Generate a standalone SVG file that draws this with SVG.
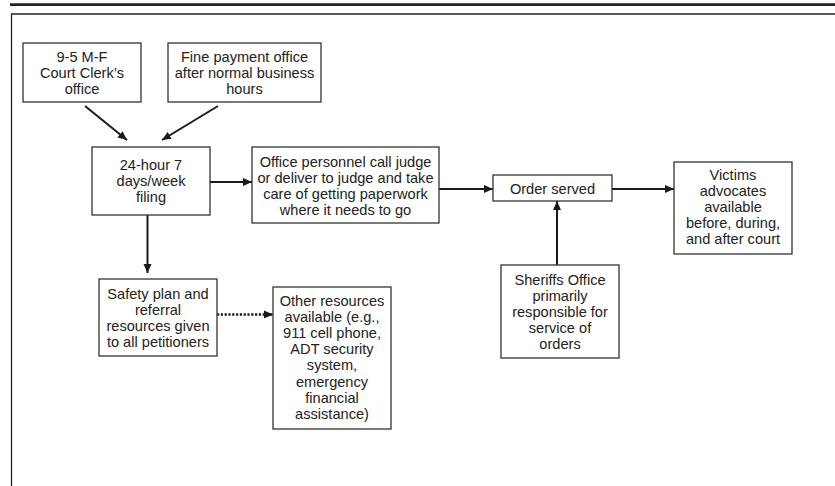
<svg xmlns="http://www.w3.org/2000/svg" width="835" height="486" viewBox="0 0 835 486">
<style>
.box{fill:#fff;stroke:#333;stroke-width:1.3}
.t{font-family:"Liberation Sans",Arial,sans-serif;font-size:14.6px;fill:#222;text-anchor:middle;dominant-baseline:central}
.c{fill:none;stroke:#1a1a1a;stroke-width:2}
.d{fill:none;stroke:#1a1a1a;stroke-width:2.6;stroke-dasharray:2.2 1.6}
</style>
<defs>
<marker id="ah" markerWidth="10" markerHeight="10" viewBox="0 0 10 10" refX="9" refY="5" orient="auto" markerUnits="userSpaceOnUse">
<path d="M0,1 L9,5 L0,9 Z" fill="#1a1a1a"/>
</marker>
</defs>
<rect width="835" height="486" fill="#fff"/>
<line x1="10" y1="4.7" x2="835" y2="4.7" stroke="#222" stroke-width="2.8"/>
<path d="M11.5,486 V14 H835" fill="none" stroke="#222" stroke-width="1.3"/>
<g id="connectors">
<line class="c" x1="85" y1="106" x2="127" y2="140" marker-end="url(#ah)"/>
<line class="c" x1="218" y1="106" x2="162" y2="140" marker-end="url(#ah)"/>
<line class="c" x1="210" y1="182" x2="252" y2="182" marker-end="url(#ah)"/>
<line class="c" x1="439" y1="189" x2="493" y2="189" marker-end="url(#ah)"/>
<line class="c" x1="612" y1="189" x2="674" y2="189" marker-end="url(#ah)"/>
<line class="c" x1="557" y1="265" x2="557" y2="201" marker-end="url(#ah)"/>
<line class="c" x1="147.5" y1="215" x2="147.5" y2="273" marker-end="url(#ah)"/>
<line class="d" x1="217" y1="314.5" x2="273" y2="314.5" marker-end="url(#ah)"/>
</g>
<g id="n1"><rect class="box" x="23" y="43" width="118" height="59"/>
<text class="t" x="82" y="56.5">9-5 M-F</text><text class="t" x="82" y="72.5">Court Clerk’s</text><text class="t" x="82" y="88.5">office</text></g>
<g id="n2"><rect class="box" x="168" y="43" width="153" height="59"/>
<text class="t" x="244.5" y="56.5">Fine payment office</text><text class="t" x="244.5" y="72.5">after normal business</text><text class="t" x="244.5" y="88.5">hours</text></g>
<g id="n3"><rect class="box" x="92" y="147" width="118" height="68"/>
<text class="t" x="151" y="165">24-hour 7</text><text class="t" x="151" y="181">days/week</text><text class="t" x="151" y="197">filing</text></g>
<g id="n4"><rect class="box" x="252" y="147" width="187" height="76"/>
<text class="t" x="345.5" y="161.5">Office personnel call judge</text><text class="t" x="345.5" y="177.5">or deliver to judge and take</text><text class="t" x="345.5" y="193.5">care of getting paperwork</text><text class="t" x="345.5" y="209.5">where it needs to go</text></g>
<g id="n5"><rect class="box" x="493" y="175" width="119" height="26"/>
<text class="t" x="552.5" y="189">Order served</text></g>
<g id="n6"><rect class="box" x="674" y="162" width="118" height="92"/>
<text class="t" x="733" y="175">Victims</text><text class="t" x="733" y="191">advocates</text><text class="t" x="733" y="207">available</text><text class="t" x="733" y="223">before, during,</text><text class="t" x="733" y="239">and after court</text></g>
<g id="n7"><rect class="box" x="501" y="265" width="118" height="93"/>
<text class="t" x="560" y="279.5">Sheriffs Office</text><text class="t" x="560" y="295.7">primarily</text><text class="t" x="560" y="311.9">responsible for</text><text class="t" x="560" y="328.1">service of</text><text class="t" x="560" y="344.3">orders</text></g>
<g id="n8"><rect class="box" x="99" y="279" width="118" height="77"/>
<text class="t" x="158" y="293.5">Safety plan and</text><text class="t" x="158" y="309.7">referral</text><text class="t" x="158" y="325.9">resources given</text><text class="t" x="158" y="342.1">to all petitioners</text></g>
<g id="n9"><rect class="box" x="273" y="287" width="118" height="142"/>
<text class="t" x="332" y="300.5">Other resources</text><text class="t" x="332" y="316.7">available (e.g.,</text><text class="t" x="332" y="332.9">911 cell phone,</text><text class="t" x="332" y="349.1">ADT security</text><text class="t" x="332" y="365.3">system,</text><text class="t" x="332" y="381.5">emergency</text><text class="t" x="332" y="397.7">financial</text><text class="t" x="332" y="413.9">assistance)</text></g>
</svg>
